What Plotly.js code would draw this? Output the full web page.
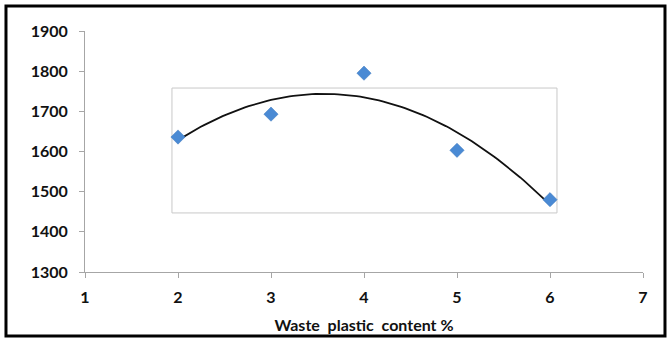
<!DOCTYPE html>
<html><head><meta charset="utf-8">
<script src="https://cdn.plot.ly/plotly-3.0.1.min.js"></script>
<style>html,body{margin:0;padding:0;background:#fff;}#chart{width:667px;height:338px;}</style>
</head><body><div id="chart"></div>
<script>
const plasticContent = [2, 3, 4, 5, 6];
const measuredValues = [1636, 1693, 1795, 1603, 1480];
const xTickVals = [1, 2, 3, 4, 5, 6, 7];
const yTickVals = [1300, 1400, 1500, 1600, 1700, 1800, 1900];
const xAxisTitle = 'Waste  plastic  content %';

// Polynomial (order 2) least-squares trendline, as in the original chart
function quadFit(xs, ys) {
  let n = xs.length, s = [0,0,0,0,0], t = [0,0,0];
  for (let i = 0; i < n; i++) {
    let p = 1;
    for (let k = 0; k <= 4; k++) { s[k] += p; if (k <= 2) t[k] += p * ys[i]; p *= xs[i]; }
  }
  const M = [[s[0], s[1], s[2], t[0]], [s[1], s[2], s[3], t[1]], [s[2], s[3], s[4], t[2]]];
  for (let i = 0; i < 3; i++) {
    for (let j = i + 1; j < 3; j++) {
      const f = M[j][i] / M[i][i];
      for (let k = i; k < 4; k++) M[j][k] -= f * M[i][k];
    }
  }
  const c = [0, 0, 0];
  for (let i = 2; i >= 0; i--) {
    let v = M[i][3];
    for (let k = i + 1; k < 3; k++) v -= M[i][k] * c[k];
    c[i] = v / M[i][i];
  }
  return c;
}
const coef = quadFit(plasticContent, measuredValues);
const xMin = Math.min(...plasticContent), xMax = Math.max(...plasticContent);
const trendX = [], trendY = [];
for (let i = 0; i <= 100; i++) {
  const x = xMin + (xMax - xMin) * i / 100;
  trendX.push(x);
  trendY.push(coef[0] + coef[1] * x + coef[2] * x * x);
}

const data = [
  { x: trendX, y: trendY, type: 'scatter', mode: 'lines', line: { color: '#111', width: 1.8 }, hoverinfo: 'skip' },
  { x: plasticContent, y: measuredValues, type: 'scatter', mode: 'markers',
    marker: { symbol: 'diamond', size: 11, color: '#4a8ad4', line: { color: '#3f78bd', width: 0.5 } } }
];

const tickFont = { family: 'Lato, "Open Sans", sans-serif', size: 16, color: '#111', weight: 'bold' };
const layout = {
  width: 667, height: 338,
  margin: { l: 85, r: 24, t: 31, b: 66 },
  showlegend: false,
  paper_bgcolor: '#fff', plot_bgcolor: '#fff',
  xaxis: {
    range: [1, 7], tickvals: xTickVals, ticktext: xTickVals.map(String),
    showgrid: false, zeroline: false, showline: true, linecolor: '#a6a6a6', linewidth: 1,
    ticks: 'outside', ticklen: 5, tickcolor: '#a6a6a6', tickfont: tickFont, ticklabelstandoff: 6,
    title: { text: xAxisTitle, font: { family: 'Lato, "Open Sans", sans-serif', size: 16, color: '#111', weight: 'bold' }, standoff: 14 }
  },
  yaxis: {
    range: [1300, 1900], tickvals: yTickVals, ticktext: yTickVals.map(String),
    showgrid: false, zeroline: false, showline: true, linecolor: '#a6a6a6', linewidth: 1,
    ticks: 'outside', ticklen: 5, tickcolor: '#a6a6a6', tickfont: tickFont, ticklabelstandoff: 8
  },
  shapes: [
    { type: 'rect', xref: 'x', yref: 'y', x0: 1.935, x1: 6.075, y0: 1447, y1: 1758,
      line: { color: '#c8c8c8', width: 1 }, layer: 'below' },
    { type: 'rect', xref: 'paper', yref: 'paper', x0: -0.1416, x1: 1.0394, y0: -0.2656, y1: 1.1037,
      line: { color: '#000', width: 3 } }
  ]
};
Plotly.newPlot('chart', data, layout, { staticPlot: true });
</script>
</body></html>
